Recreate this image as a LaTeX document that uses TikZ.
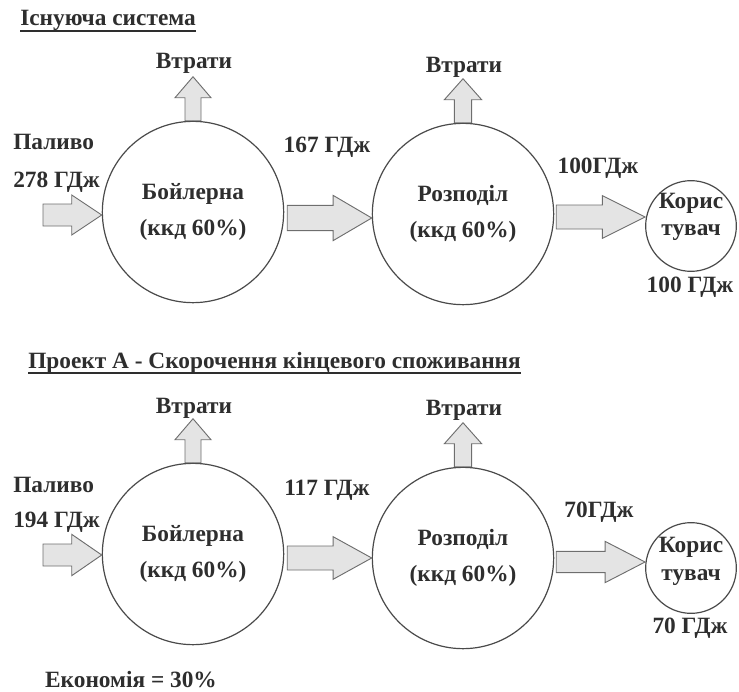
\documentclass[tikz,border=0pt]{standalone}
\usepackage{fontspec}
\setmainfont{Liberation Serif}
\usetikzlibrary{calc}
\definecolor{ink}{HTML}{2E2E2E}
\definecolor{edge}{HTML}{4A4A4A}
\definecolor{arrfill}{HTML}{E4E4E4}
\definecolor{arredge}{HTML}{6E6E6E}
% horizontal block arrow: #1 start, #2 end (x used), #3 shaft half, #4 head half, #5 head length
\newcommand\hflow[5]{%
  \draw[flowarrow] let \p1=(#1), \p2=(#2) in
    (\x1,\y1+#3) -- (\x2-#5,\y1+#3) -- (\x2-#5,\y1+#4) -- (\x2,\y1)
    -- (\x2-#5,\y1-#4) -- (\x2-#5,\y1-#3) -- (\x1,\y1-#3) -- cycle;}
% vertical block arrow (upwards): #1 start, #2 tip (y used)
\newcommand\vflow[5]{%
  \draw[flowarrow] let \p1=(#1), \p2=(#2) in
    (\x1-#3,\y1) -- (\x1-#3,\y2-#5) -- (\x1-#4,\y2-#5) -- (\x1,\y2)
    -- (\x1+#4,\y2-#5) -- (\x1+#3,\y2-#5) -- (\x1+#3,\y1) -- cycle;}
\begin{document}
\begin{tikzpicture}[x=0.75pt,y=-0.75pt,
  txt/.style={font=\fontsize{17.5}{20}\selectfont\bfseries, text=ink, inner sep=0pt},
  bigcirc/.style={circle, draw=edge, line width=0.9pt, fill=white, minimum size=136pt,
     inner sep=0pt, align=center, text=ink, font=\fontsize{17.5}{27}\selectfont\bfseries},
  smallcirc/.style={circle, draw=edge, line width=0.9pt, fill=white, minimum size=68pt, inner sep=0pt},
  flowarrow/.style={draw=arredge, fill=arrfill, line width=0.7pt, line join=miter},
  uline/.style={draw=ink, line width=1.3pt}
]
\path[use as bounding box] (0,0) rectangle (739,692);

% ---------------- Existing system ----------------
\node[txt, anchor=base west] (title1) at (20,26) {Існуюча система};
\draw[uline] ($(title1.base west)+(0,5)$) -- ($(title1.base east)+(0,5)$);

\node[bigcirc] (boil1) at (193,212) {Бойлерна\\(ккд 60\%)};
\node[bigcirc] (dist1) at (463,214) {Розподіл\\(ккд 60\%)};
\node[smallcirc] (cons1) at (691,226) {};
\node[txt, align=center, font=\fontsize{17.5}{20}\selectfont\bfseries] (cons1t) at (691,217) {Корис\\тувач};

\coordinate (in1) at (43,215);
\coordinate (m1) at ($(boil1.east)+(3,6)$);
\coordinate (c1) at ($(dist1.east)+(2,3)$);
\coordinate (lb1) at ($(boil1.north)+(0,-44)$);
\coordinate (ld1) at ($(dist1.north)+(0,-44)$);

\hflow{in1}{boil1.west}{8.25pt}{15pt}{22.5pt}
\hflow{m1}{dist1.west}{9.5pt}{17pt}{29pt}
\hflow{c1}{cons1.west}{9pt}{16pt}{32pt}
\vflow{boil1.north}{lb1}{6pt}{13.5pt}{15.75pt}
\vflow{dist1.north}{ld1}{6.5pt}{14pt}{15.75pt}

\node[txt] (loss1a) at (194,63) {Втрати};
\node[txt] (loss1b) at (464,67) {Втрати};
\node[txt, anchor=west] (fuel1) at (13,142) {Паливо};
\node[txt, anchor=west] (fuel1v) at (13,182) {278 ГДж};
\node[txt] (e1) at (327,147) {167 ГДж};
\node[txt] (e2) at (598,168) {100ГДж};
\node[txt] (e3) at (690,287) {100 ГДж};

% ---------------- Project A ----------------
\node[txt, anchor=base west] (title2) at (28,368) {Проект А - Скорочення кінцевого споживання};
\draw[uline] ($(title2.base west)+(0,5)$) -- ($(title2.base east)+(0,5)$);

\node[bigcirc] (boil2) at (193,554) {Бойлерна\\(ккд 60\%)};
\node[bigcirc] (dist2) at (463,558) {Розподіл\\(ккд 60\%)};
\node[smallcirc] (cons2) at (691,568) {};
\node[txt, align=center, font=\fontsize{17.5}{21}\selectfont\bfseries] (cons2t) at (691,561) {Корис\\тувач};

\coordinate (in2) at (43,555);
\coordinate (m2) at ($(boil2.east)+(3,4)$);
\coordinate (c2) at ($(dist2.east)+(2,4)$);
\coordinate (lb2) at ($(boil2.north)+(0,-44)$);
\coordinate (ld2) at ($(dist2.north)+(0,-44)$);

\hflow{in2}{boil2.west}{8.25pt}{15.5pt}{22.5pt}
\hflow{m2}{dist2.west}{9pt}{16pt}{29pt}
\hflow{c2}{cons2.west}{8pt}{15.5pt}{30pt}
\vflow{boil2.north}{lb2}{6pt}{13.5pt}{15.75pt}
\vflow{dist2.north}{ld2}{6.5pt}{14pt}{15.75pt}

\node[txt] (loss2a) at (194,408) {Втрати};
\node[txt] (loss2b) at (464,410) {Втрати};
\node[txt, anchor=west] (fuel2) at (13,485) {Паливо};
\node[txt, anchor=west] (fuel2v) at (13,522) {194 ГДж};
\node[txt] (f1) at (327,490) {117 ГДж};
\node[txt] (f2) at (599,512) {70ГДж};
\node[txt] (f3) at (690,628) {70 ГДж};
\node[txt] (econ) at (131,680) {Економія = 30\%};
\end{tikzpicture}
\end{document}
